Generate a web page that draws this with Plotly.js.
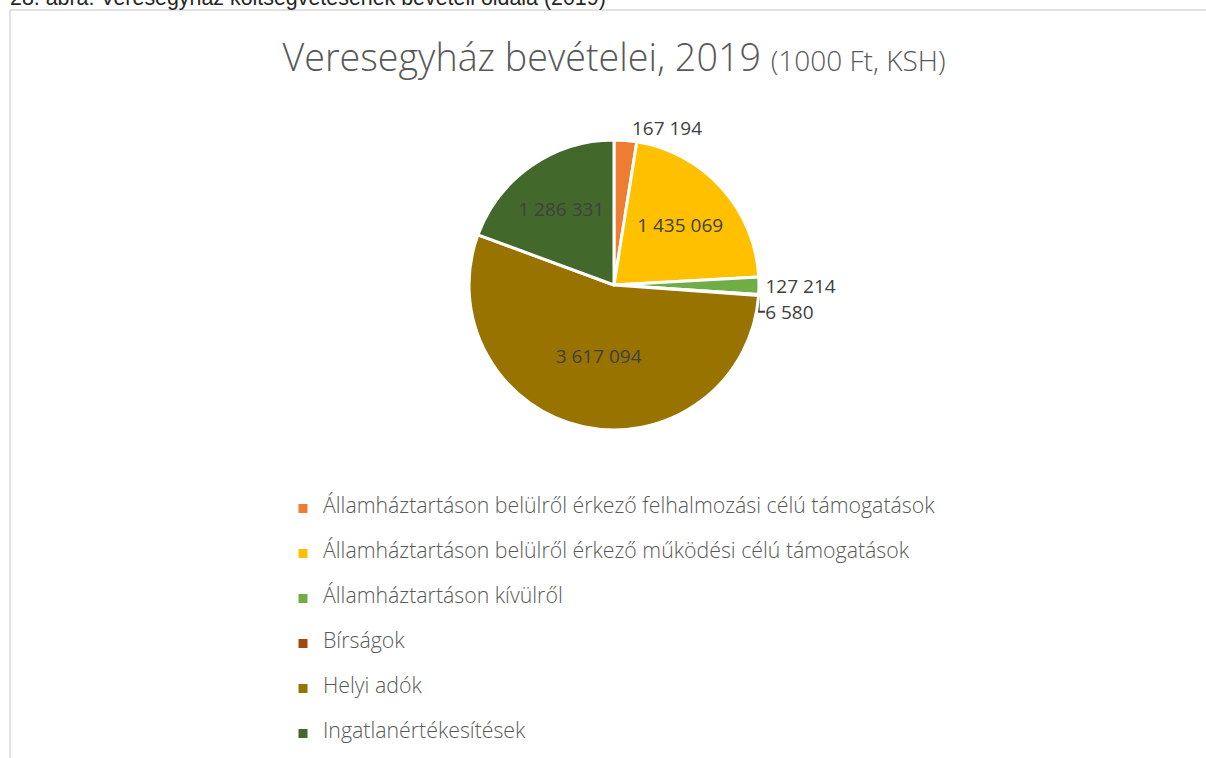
<!DOCTYPE html>
<html>
<head>
<meta charset="utf-8">
<script src="https://cdn.plot.ly/plotly-3.0.1.min.js"></script>
<style>
html,body{margin:0;padding:0;background:#fff;}
#chart{width:1206px;height:758px;}
</style>
</head>
<body>
<div id="chart"></div>
<script>
var categories = [
  "Államháztartáson belülről érkező felhalmozási célú támogatások",
  "Államháztartáson belülről érkező működési célú támogatások",
  "Államháztartáson kívülről",
  "Bírságok",
  "Helyi adók",
  "Ingatlanértékesítések"
];
var values = [167194, 1435069, 127214, 6580, 3617094, 1286331];
var colors = ["#ED7D31", "#FFC000", "#70AD47", "#9E480E", "#997300", "#43682B"];
var labelPositions = ["outside", "inside", "outside", "outside", "inside", "inside"];
var chartTitle = "Veresegyház bevételei, 2019";
var chartSubtitle = "(1000 Ft, KSH)";
var caption = "28. ábra: Veresegyház költségvetésének bevételi oldala (2019)";

var W = 1206, H = 758;
function px(x){ return x / W; }
function py(y){ return 1 - y / H; }

var legendLabels = categories.map(function(c){
  return "\u00a0<br><span style='font-size:21.3px'>" + c + "</span><br>\u00a0";
});

var trace = {
  type: "pie",
  labels: legendLabels,
  values: values,
  sort: false,
  direction: "clockwise",
  rotation: 0,
  marker: { colors: colors, line: { color: "#ffffff", width: 3 } },
  textposition: labelPositions,
  texttemplate: "%{value:,}",
  hoverinfo: "label+value",
  insidetextorientation: "horizontal",
  textfont: { family: "Open Sans", size: 19, color: "#404040" },
  insidetextfont: { family: "Open Sans", size: 19, color: "#404040" },
  outsidetextfont: { family: "Open Sans", size: 19, color: "#404040" },
  domain: { x: [px(469), px(759)], y: [py(430), py(140)] },
  automargin: false
};

var layout = {
  width: W, height: H,
  margin: { l: 0, r: 0, t: 0, b: 0, autoexpand: false },
  paper_bgcolor: "#ffffff",
  separators: ", ",
  font: { family: "Open Sans", color: "#595959" },
  title: {
    text: chartTitle + " <span style='font-size:28px'>" + chartSubtitle + "</span>",
    font: { family: "Open Sans", size: 37.7, color: "#595959", weight: 300 },
    x: px(614), xanchor: "center",
    xref: "container", yref: "container",
    y: py(58), yanchor: "middle"
  },
  showlegend: true,
  legend: {
    x: px(283), xanchor: "left",
    y: py(481), yanchor: "top",
    orientation: "v",
    font: { family: "Open Sans", size: 10.77, color: "#595959", weight: 300 },
    bgcolor: "rgba(0,0,0,0)",
    traceorder: "normal"
  },
  shapes: [{
    type: "rect", xref: "paper", yref: "paper",
    x0: px(10), x1: px(1208), y0: -0.2, y1: py(10),
    line: { color: "#d9d9d9", width: 1.5 },
    fillcolor: "rgba(0,0,0,0)", layer: "below"
  }],
  annotations: [{
    text: caption, showarrow: false,
    xref: "paper", yref: "paper",
    x: px(8), xanchor: "left",
    y: py(12.5), yanchor: "bottom",
    font: { family: "Liberation Sans", size: 21.4, color: "#262626" }
  }]
};

Plotly.newPlot("chart", [trace], layout, { displayModeBar: false, staticPlot: true });
</script>
</body>
</html>
